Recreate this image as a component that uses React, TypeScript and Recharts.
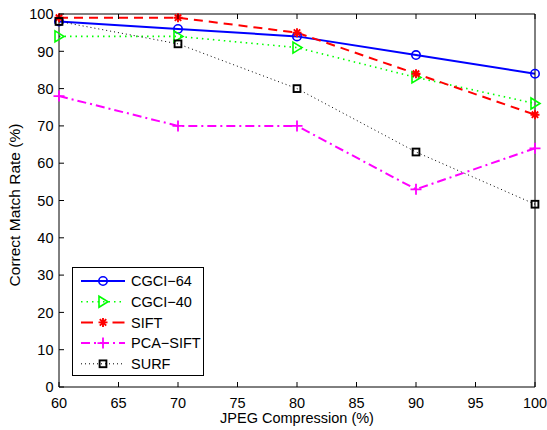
import React from "react";
import { LineChart, Line, XAxis, YAxis, Legend, Label } from "recharts";

const quality = [60, 70, 80, 90, 100];
const cgci64 = [98, 96, 94, 89, 84];
const cgci40 = [94, 94, 91, 83, 76];
const sift = [99, 99, 95, 84, 73];
const pcaSift = [78, 70, 70, 53, 64];
const surf = [98, 92, 80, 63, 49];

const xTicks = [60, 65, 70, 75, 80, 85, 90, 95, 100];
const yTicks = [0, 10, 20, 30, 40, 50, 60, 70, 80, 90, 100];

const data = quality.map((q, i) => ({
  q,
  cgci64: cgci64[i],
  cgci40: cgci40[i],
  sift: sift[i],
  pcaSift: pcaSift[i],
  surf: surf[i],
}));

const FONT = "'Liberation Sans', Arial, Helvetica, sans-serif";
const FS = 14.5;
const TM = 4; // tick margin, ticks drawn by hand so they point inward

// markers, like matlab's o > * + s
const marker = (kind: string, color: string, cx: number, cy: number) => {
  if (kind === "o") return <circle cx={cx} cy={cy} r={4.2} fill="none" stroke={color} strokeWidth={1.6} />;
  if (kind === ">")
    return (
      <path
        d={`M${cx - 4} ${cy - 5.5} L${cx + 5} ${cy} L${cx - 4} ${cy + 5.5} Z`}
        fill="none"
        stroke={color}
        strokeWidth={1.6}
      />
    );
  if (kind === "*")
    return (
      <path
        d={`M${cx - 4.5} ${cy} H${cx + 4.5} M${cx} ${cy - 4.5} V${cy + 4.5} M${cx - 3.2} ${cy - 3.2} L${cx + 3.2} ${cy + 3.2} M${cx - 3.2} ${cy + 3.2} L${cx + 3.2} ${cy - 3.2}`}
        stroke={color}
        strokeWidth={1.9}
      />
    );
  if (kind === "+")
    return (
      <path d={`M${cx - 5.5} ${cy} H${cx + 5.5} M${cx} ${cy - 5.5} V${cy + 5.5}`} stroke={color} strokeWidth={1.8} />
    );
  return <rect x={cx - 3.4} y={cy - 3.4} width={6.8} height={6.8} fill="none" stroke={color} strokeWidth={1.9} />;
};

const series = [
  { key: "cgci64", name: "CGCI\u221264", color: "#0000ff", dash: undefined, legendDash: undefined, width: 2, mk: "o" },
  { key: "cgci40", name: "CGCI\u221240", color: "#00ff00", dash: "1.5 4", legendDash: "1.5 4", width: 1.6, mk: ">" },
  { key: "sift", name: "SIFT", color: "#ff0000", dash: "9 6", legendDash: "12 19.5", width: 2, mk: "*" },
  { key: "pcaSift", name: "PCA\u2212SIFT", color: "#ff00ff", dash: "9 4 2 4", legendDash: "9 4 2 4", width: 2, mk: "+" },
  { key: "surf", name: "SURF", color: "#000000", dash: "1 3", legendDash: "1 3", width: 1, mk: "s" },
];

const BottomTick = (props: any) => {
  const { x, y, payload } = props;
  const ay = y - TM;
  return (
    <g>
      <line x1={x} x2={x} y1={ay} y2={ay - 5} stroke="#000" />
      <text x={x} y={ay + 20.5} textAnchor="middle" fontSize={FS} fontFamily={FONT} fill="#000">
        {payload.value}
      </text>
    </g>
  );
};

const LeftTick = (props: any) => {
  const { x, y, payload } = props;
  const ax = x + TM;
  return (
    <g>
      <line x1={ax} x2={ax + 5} y1={y} y2={y} stroke="#000" />
      <text x={ax - 5.5} y={y + 5.2} textAnchor="end" fontSize={FS} fontFamily={FONT} fill="#000">
        {payload.value}
      </text>
    </g>
  );
};

const TopTick = (props: any) => {
  const { x, y } = props;
  const ay = y + TM;
  return <line x1={x} x2={x} y1={ay} y2={ay + 5} stroke="#000" />;
};

const RightTick = (props: any) => {
  const { x, y } = props;
  const ax = x - TM;
  return <line x1={ax} x2={ax - 5} y1={y} y2={y} stroke="#000" />;
};

const LegendBox = () => (
  <svg width={132} height={110} style={{ display: "block" }}>
    <rect x={0.5} y={0.5} width={131} height={108} fill="#fff" stroke="#000" />
    {series.map((s, i) => {
      const cy = 14 + i * 20.7;
      return (
        <g key={s.key}>
          <line x1={9} x2={53} y1={cy} y2={cy} stroke={s.color} strokeWidth={s.width} strokeDasharray={s.legendDash} />
          {marker(s.mk, s.color, 31, cy)}
          <text x={59} y={cy + 5.2} fontSize={FS} fontFamily={FONT} fill="#000">
            {s.name}
          </text>
        </g>
      );
    })}
  </svg>
);

const YLabel = () => (
  <text
    x={19.5}
    y={205}
    transform="rotate(-90, 19.5, 205)"
    textAnchor="middle"
    fontSize={15.5}
    fontFamily={FONT}
    fill="#000"
  >
    Correct Match Rate (%)
  </text>
);

export default function App() {
  return (
    <div style={{ position: "absolute", left: 0, top: 0, width: 547, height: 430, background: "#fff" }}>
      <LineChart width={547} height={430} data={data} margin={{ top: 13, right: 11, bottom: 0, left: 0 }}>
        <XAxis
          dataKey="q"
          type="number"
          domain={[60, 100]}
          ticks={xTicks}
          height={43}
          tickSize={0}
          tickLine={false}
          tickMargin={TM}
          tick={<BottomTick />}
          axisLine={{ stroke: "#000" }}
        >
          <Label value="JPEG Compression (%)" position="insideBottom" offset={7} fontSize={FS} fontFamily={FONT} fill="#000" />
        </XAxis>
        <XAxis
          xAxisId="top"
          orientation="top"
          dataKey="q"
          type="number"
          domain={[60, 100]}
          ticks={xTicks}
          height={1}
          tickSize={0}
          tickLine={false}
          tickMargin={TM}
          tick={<TopTick />}
          axisLine={{ stroke: "#000" }}
        />
        <YAxis
          type="number"
          domain={[0, 100]}
          ticks={yTicks}
          width={59}
          tickSize={0}
          tickLine={false}
          tickMargin={TM}
          tick={<LeftTick />}
          axisLine={{ stroke: "#000" }}
        >
          <Label content={<YLabel />} />
        </YAxis>
        <YAxis
          yAxisId="right"
          orientation="right"
          type="number"
          domain={[0, 100]}
          ticks={yTicks}
          width={1}
          tickSize={0}
          tickLine={false}
          tickMargin={TM}
          tick={<RightTick />}
          axisLine={{ stroke: "#000" }}
        />
        {series.map((s) => (
          <Line
            key={s.key}
            dataKey={s.key}
            name={s.name}
            type="linear"
            stroke={s.color}
            strokeWidth={s.width}
            strokeDasharray={s.dash}
            isAnimationActive={false}
            dot={(p: any) => <g key={`${s.key}-${p.index}`}>{marker(s.mk, s.color, p.cx, p.cy)}</g>}
            activeDot={false}
          />
        ))}
        <Legend
          layout="vertical"
          align="center"
          verticalAlign="middle"
          content={<LegendBox />}
          wrapperStyle={{ position: "absolute", left: 72, top: 267, width: 132, height: 110 }}
        />
      </LineChart>
    </div>
  );
}
